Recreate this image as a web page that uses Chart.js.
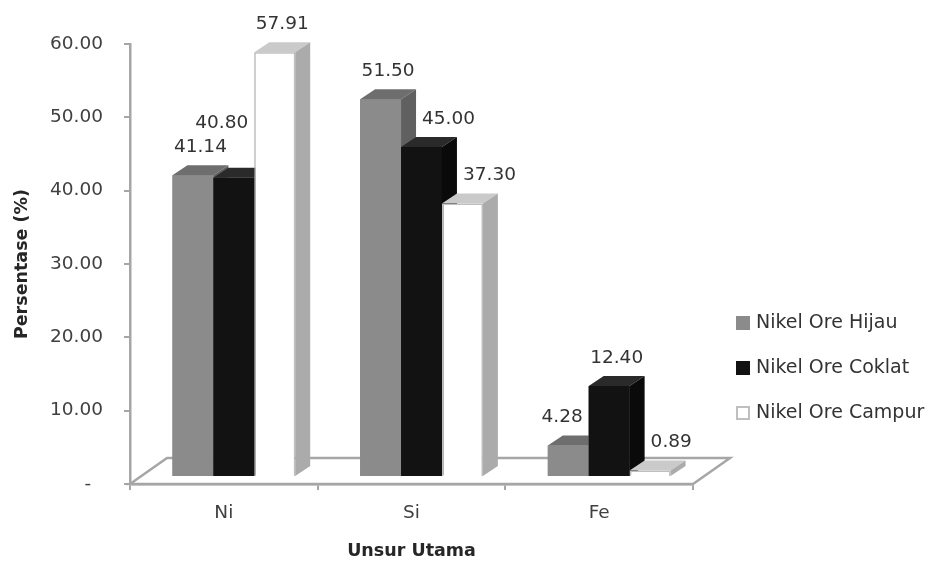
<!DOCTYPE html>
<html>
<head>
<meta charset="utf-8">
<script src="https://cdn.jsdelivr.net/npm/chart.js@4.4.1/dist/chart.umd.min.js"></script>
<style>
  html, body { margin: 0; padding: 0; background: #fff; }
</style>
</head>
<body>
<canvas id="chart" width="933" height="563"></canvas>
<script>
// values
var unsur = ['Ni', 'Si', 'Fe'];
var seriesNames = ['Nikel Ore Hijau', 'Nikel Ore Coklat', 'Nikel Ore Campur'];
var oreHijau = [41.14, 51.50, 4.28];
var oreCoklat = [40.80, 45.00, 12.40];
var oreCampur = [57.91, 37.30, 0.89];
var yTicks = [0, 10, 20, 30, 40, 50, 60];

// fake 3d look
var DEPTH_X = 15, DEPTH_Y = 10;   // depth of a bar
var SHIFT_X = 10, SHIFT_Y = -7;   // bars stand a little back on the floor
var FLOOR_X = 37, FLOOR_Y = 26;   // depth of the floor

var faces = [
  { top: '#6e6e6e', side: '#606060' },
  { top: '#2a2a2a', side: '#0a0a0a' },
  { top: '#cacaca', side: '#ababab' }
];

var FONT = 'DejaVu Sans';
Chart.defaults.font.family = FONT;
Chart.defaults.color = '#404040';

var bars3d = {
  id: 'bars3d',
  beforeDatasetsDraw: function (chart) {
    var a = chart.chartArea, ctx = chart.ctx;
    // floor
    ctx.save();
    ctx.beginPath();
    ctx.moveTo(a.left, a.bottom);
    ctx.lineTo(a.left + FLOOR_X, a.bottom - FLOOR_Y);
    ctx.lineTo(a.right + FLOOR_X, a.bottom - FLOOR_Y);
    ctx.lineTo(a.right, a.bottom);
    ctx.closePath();
    ctx.fillStyle = '#fff';
    ctx.fill();
    ctx.lineWidth = 2.5;
    ctx.strokeStyle = '#a6a6a6';
    ctx.stroke();
    ctx.restore();

    ctx.save();
    ctx.translate(SHIFT_X, SHIFT_Y);
  },
  afterDatasetsDraw: function (chart) {
    var ctx = chart.ctx;
    var boxes = [];
    // repaint left to right so each bar hides the side of its left neighbour
    chart.data.datasets.forEach(function (ds, i) {
      var f = faces[i];
      chart.getDatasetMeta(i).data.forEach(function (bar) {
        var p = bar.getProps(['x', 'y', 'base', 'width'], true);
        var l = p.x - p.width / 2, r = p.x + p.width / 2;
        bar.draw(ctx);
        ctx.fillStyle = f.top;
        ctx.beginPath();
        ctx.moveTo(l, p.y);
        ctx.lineTo(l + DEPTH_X, p.y - DEPTH_Y);
        ctx.lineTo(r + DEPTH_X, p.y - DEPTH_Y);
        ctx.lineTo(r, p.y);
        ctx.closePath();
        ctx.fill();
        ctx.fillStyle = f.side;
        ctx.beginPath();
        ctx.moveTo(r, p.y);
        ctx.lineTo(r + DEPTH_X, p.y - DEPTH_Y);
        ctx.lineTo(r + DEPTH_X, p.base - DEPTH_Y);
        ctx.lineTo(r, p.base);
        ctx.closePath();
        ctx.fill();
        boxes.push({ l: l, r: r + DEPTH_X, t: p.y - DEPTH_Y, b: p.base });
      });
    });

    // value labels: slide sideways off other bars, then up off other labels
    ctx.font = '18.5px "' + FONT + '"';
    ctx.fillStyle = '#333';
    ctx.textAlign = 'center';
    ctx.textBaseline = 'middle';
    var placed = [];
    var gap = 6;
    chart.data.datasets.forEach(function (ds, i) {
      chart.getDatasetMeta(i).data.forEach(function (bar, j) {
        var p = bar.getProps(['x', 'y'], true);
        var txt = ds.data[j].toFixed(2);
        var w = ctx.measureText(txt).width, h = 20;
        var cx = p.x + DEPTH_X / 2, cy = p.y - DEPTH_Y - 18;
        boxes.forEach(function (b) {
          var overlapX = cx + w / 2 > b.l && cx - w / 2 < b.r;
          var overlapY = cy + h / 2 > b.t;
          if (overlapX && overlapY) {
            if ((b.l + b.r) / 2 < cx) cx = b.r + gap + w / 2;
            else cx = b.l - gap - w / 2;
          }
        });
        var moved = true;
        while (moved) {
          moved = false;
          placed.forEach(function (q) {
            if (Math.abs(cx - q.cx) < (w + q.w) / 2 && Math.abs(cy - q.cy) < h) {
              cy = q.cy - h - 4;
              moved = true;
            }
          });
        }
        placed.push({ cx: cx, cy: cy, w: w });
        ctx.fillText(txt, cx, cy);
      });
    });
    ctx.restore();
  }
};

var sideLegend = {
  id: 'sideLegend',
  afterDraw: function (chart) {
    var ctx = chart.ctx;
    var x = chart.chartArea.right + 43, y = 323;
    ctx.save();
    ctx.font = '19px "' + FONT + '"';
    ctx.textBaseline = 'middle';
    ctx.textAlign = 'left';
    chart.data.datasets.forEach(function (ds, i) {
      var yy = y + i * 45;
      ctx.fillStyle = ds.backgroundColor;
      ctx.fillRect(x, yy - 7, 14, 14);
      if (ds.borderWidth) {
        ctx.strokeStyle = ds.borderColor;
        ctx.lineWidth = 2;
        ctx.strokeRect(x + 1, yy - 6, 12, 12);
      }
      ctx.fillStyle = '#333';
      ctx.fillText(ds.label, x + 20, yy);
    });
    ctx.restore();
  }
};

new Chart(document.getElementById('chart'), {
  type: 'bar',
  data: {
    labels: unsur,
    datasets: [{
      label: seriesNames[0],
      data: oreHijau,
      backgroundColor: '#8b8b8b',
      borderWidth: 0
    }, {
      label: seriesNames[1],
      data: oreCoklat,
      backgroundColor: '#121212',
      borderWidth: 0
    }, {
      label: seriesNames[2],
      data: oreCampur,
      backgroundColor: '#ffffff',
      borderColor: '#bfbfbf',
      borderWidth: 1.5
    }]
  },
  options: {
    responsive: false,
    animation: false,
    clip: false,
    categoryPercentage: 0.654,
    barPercentage: 1,
    layout: { padding: { top: 44, right: 240, bottom: 0, left: 0 } },
    plugins: {
      legend: { display: false },
      tooltip: { enabled: false }
    },
    scales: {
      x: {
        afterFit: function (scale) { scale.height = 79; },
        grid: { display: true, drawOnChartArea: false, tickLength: 6, color: '#a6a6a6', lineWidth: 2 },
        border: { display: true, color: '#a6a6a6', width: 2.5 },
        ticks: { font: { size: 18.5 }, padding: 12, color: '#404040' },
        title: {
          display: true,
          text: 'Unsur Utama',
          font: { size: 17.5, weight: 'bold' },
          color: '#262626',
          padding: { top: 15, bottom: 1 }
        }
      },
      y: {
        min: yTicks[0],
        max: yTicks[yTicks.length - 1],
        afterFit: function (scale) { scale.width = 130; },
        grid: { display: true, drawOnChartArea: false, tickLength: 6, color: '#a6a6a6', lineWidth: 2 },
        border: { display: true, color: '#a6a6a6', width: 2.5 },
        afterBuildTicks: function (scale) {
          scale.ticks = yTicks.map(function (v) { return { value: v }; });
        },
        ticks: {
          font: { size: 18.5 },
          padding: 21,
          color: '#404040',
          callback: function (v) { return v === 0 ? '-  ' : v.toFixed(2); }
        },
        title: {
          display: true,
          text: 'Persentase (%)',
          font: { size: 17.5, weight: 'bold' },
          color: '#262626',
          padding: { top: 12, bottom: 16 }
        }
      }
    }
  },
  plugins: [bars3d, sideLegend]
});
</script>
</body>
</html>
